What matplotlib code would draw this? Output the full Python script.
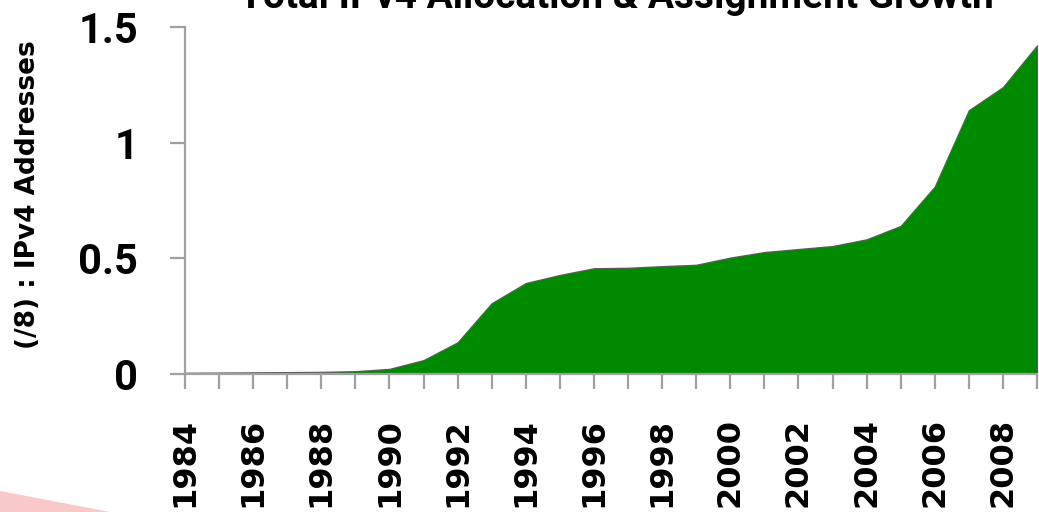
import matplotlib
matplotlib.use("Agg")
import matplotlib.pyplot as plt
from matplotlib.patches import Polygon

years = list(range(1984, 2010))
values = [0.005, 0.006, 0.007, 0.008, 0.009, 0.012, 0.022, 0.06, 0.137, 0.306,
          0.393, 0.428, 0.457, 0.459, 0.466, 0.472, 0.503, 0.527, 0.54, 0.553,
          0.582, 0.64, 0.81, 1.14, 1.24, 1.42]
tick_labels = [str(y) for y in range(1984, 2010, 2)]
title = "Total IPv4 Allocation & Assignment Growth"
ylabel = "(/8) : IPv4 Addresses"

W, H = 1039, 512
fig = plt.figure(figsize=(W / 100, H / 100), dpi=100)
ax = fig.add_axes([185 / W, 1 - 374 / H, 852 / W, 347 / H])

ax.fill_between(years, values, 0, facecolor="#008a00", edgecolor="#5a5a5a", linewidth=1.0)
ax.set_xlim(1984, 2009)
ax.set_ylim(0, 1.5)
ax.set_xticks(years)
ax.set_xticklabels([str(y) if str(y) in tick_labels else "" for y in years], rotation=90,
                   fontfamily="DejaVu Sans", fontweight="bold", fontsize=23, va="top")
ax.set_yticks([0, 0.5, 1, 1.5])
ax.set_yticklabels(["0", "0.5", "1", "1.5"], fontfamily="Roboto", fontweight="bold", fontsize=30)

for s in ["top", "right"]:
    ax.spines[s].set_visible(False)
for s in ["left", "bottom"]:
    ax.spines[s].set_color("#a0a0a0")
    ax.spines[s].set_linewidth(1.6)
ax.tick_params(axis="both", direction="out", length=10.8, width=1.6, color="#a0a0a0")
ax.tick_params(axis="y", pad=23)
ax.tick_params(axis="x", pad=21)

fig.text(28 / W, 1 - 195 / H, ylabel, rotation=90, ha="center", va="center",
         fontfamily="DejaVu Sans", fontweight="bold", fontsize=19)
fig.text(616 / W, 1 - 8 / H, title, ha="center", va="baseline",
         fontfamily="Roboto", fontweight="bold", fontsize=28)

pink = Polygon([[0, 0], [0, 21 / H], [110 / W, 0]], closed=True, transform=fig.transFigure,
               facecolor="#f9c9c9", edgecolor="none", linewidth=0)
fig.patches.append(pink)

fig.savefig("out.png", dpi=100)
